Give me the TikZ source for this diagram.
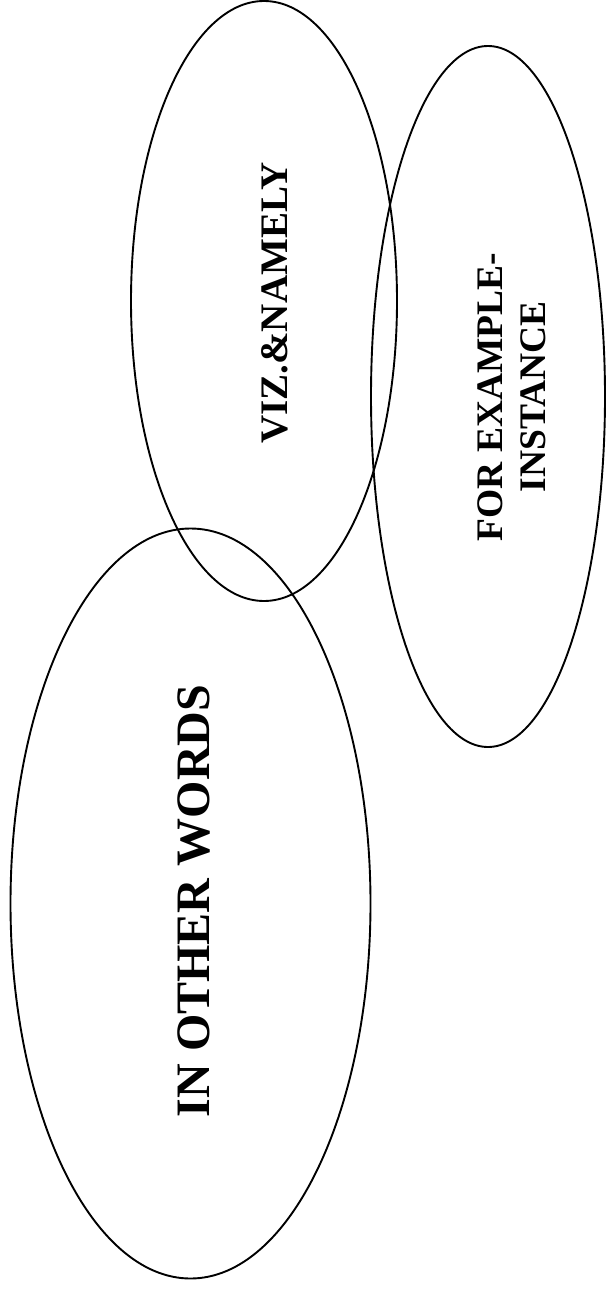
\documentclass[tikz,border=0pt]{standalone}
\usepackage{fontspec}
\setmainfont{Liberation Serif}
\usetikzlibrary{shapes.geometric}
\tikzset{
  bubble/.style={draw=black, line width=1.9pt, ellipse, inner sep=0pt, anchor=center},
  label/.style={rotate=90, inner sep=0pt, anchor=center, text=black}
}
\begin{document}
\begin{tikzpicture}[x=1pt,y=1pt]
\useasboundingbox (0,0) rectangle (606,-1289);
\fill[white] (0,0) rectangle (606,-1289);
% ellipses
\node[bubble, minimum width=360pt, minimum height=750pt] (e1) at (190.5,-903.5) {};
\node[bubble, minimum width=266pt, minimum height=600pt] (e2) at (264,-301) {};
\node[bubble, minimum width=234pt, minimum height=701pt] (e3) at (488,-396.5) {};
% labels
\node[label, font={\bfseries\fontsize{48}{52}\selectfont}] (t1) at (194,-901) {IN OTHER WORDS};
\node[label, font={\bfseries\fontsize{39}{43}\selectfont}] (t2) at (275,-303) {VIZ.\&NAMELY};
\node[label, align=center, font={\bfseries\fontsize{37.5}{43}\selectfont}] (t3) at (512,-397) {FOR EXAMPLE-\\INSTANCE};
\end{tikzpicture}
\end{document}
